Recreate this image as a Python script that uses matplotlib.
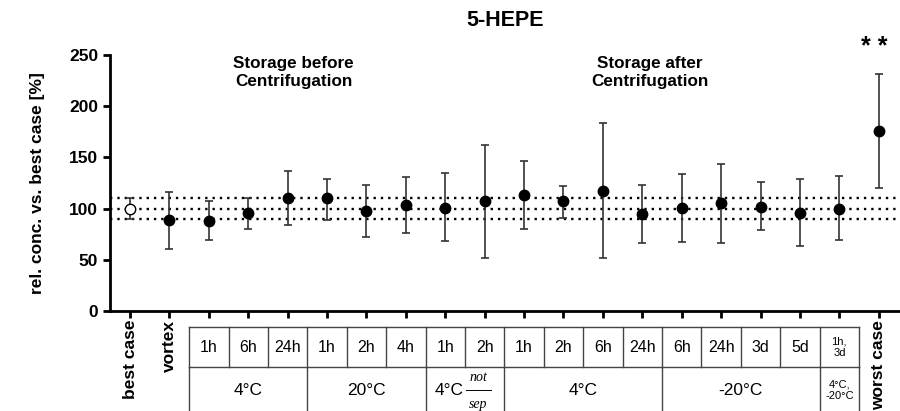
import numpy as np
import matplotlib.pyplot as plt
import matplotlib.transforms as mtransforms
from matplotlib.lines import Line2D

plt.rcParams['font.family'] = ['Liberation Sans', 'DejaVu Sans']

# data (mean, upper end, lower end of error bar)
conditions = ['best case', 'vortex',
              '1h', '6h', '24h', '1h', '2h', '4h', '1h', '2h',
              '1h', '2h', '6h', '24h', '6h', '24h', '3d', '5d', '1h,\n3d',
              'worst case']
means = [100, 89, 88, 95.5, 110, 110, 98, 104, 101, 107,
         113.5, 107, 117.5, 95, 100.5, 105, 102, 96, 100, 176]
upper = [110, 116.5, 107.5, 110, 137, 129, 123.5, 131, 135, 162.5,
         146, 122.5, 184, 123, 134, 144, 125.5, 128.5, 131.5, 231]
lower = [90, 60.5, 69, 80, 84, 89, 72, 76.5, 68, 52,
         80.5, 91, 52, 66, 67.5, 66, 79, 63, 69, 120.5]
groups = [('4°C', 2, 4), ('20°C', 5, 7), ('4°C', 8, 9), ('4°C', 10, 13),
          ('-20°C', 14, 17), ('4°C,\n-20°C', 18, 18)]
ref_lines = [90, 100, 110]

x = np.arange(len(means))
means = np.array(means)
yerr = np.vstack([means - np.array(lower), np.array(upper) - means])

fig = plt.figure(figsize=(9, 4.11), dpi=100)
ax = fig.add_axes([110/900, 1-311/411, 790/900, 256/411])

for r in ref_lines:
    ax.axhline(r, color='black', lw=1.7, ls=(0, (1, 2.1)), zorder=1)

ax.errorbar(x[1:], means[1:], yerr=yerr[:, 1:], fmt='o', color='black',
            ecolor='#333333', elinewidth=1.2, capsize=3, capthick=1.2,
            markersize=7.5, zorder=3)
ax.errorbar(x[:1], means[:1], yerr=yerr[:, :1], fmt='o', mfc='white',
            mec='black', color='black', ecolor='#333333', elinewidth=1.2,
            capsize=3, capthick=1.2, markersize=7.5, zorder=3)

ax.set_xlim(-0.508, 19.54)
ax.set_ylim(0, 250)
ax.set_yticks([0, 50, 100, 150, 200, 250])
ax.set_xticks(x)
ax.set_xticklabels([])
for s in ['top', 'right']:
    ax.spines[s].set_visible(False)
for s in ['left', 'bottom']:
    ax.spines[s].set_linewidth(2)
ax.tick_params(axis='both', direction='out', width=2, length=5)
for lab in ax.get_yticklabels():
    lab.set_fontweight('bold')
    lab.set_fontsize(12.5)
ax.set_ylabel('rel. conc. vs. best case [%]', fontsize=12.5, fontweight='bold',
              labelpad=17)

fig.text(505/900, 1-20/411, '5-HEPE', ha='center', va='center',
         fontsize=15.5, fontweight='bold')
ax.text(4.15, 233, 'Storage before\nCentrifugation', ha='center', va='center',
        fontsize=12.3, fontweight='bold', linespacing=1.25)
ax.text(13.2, 233, 'Storage after\nCentrifugation', ha='center', va='center',
        fontsize=12.3, fontweight='bold', linespacing=1.25)
ax.text(18.88, (311-47)/1.024, '* *', ha='center', va='center', fontsize=18,
        fontweight='bold', clip_on=False)

# table below the axis
tr = mtransforms.blended_transform_factory(ax.transData, ax.transAxes)
top, mid, bot = -0.0625, -0.219, -0.40
line_kw = dict(color='#444444', lw=1, transform=tr, clip_on=False)
left_edge, right_edge = 1.5, 18.5
for yy in (top, mid):
    ax.add_line(Line2D([left_edge, right_edge], [yy, yy], **line_kw))
for i in range(2, 20):
    xb = i - 0.5
    ax.add_line(Line2D([xb, xb], [top, mid], **line_kw))
for name, g0, g1 in groups:
    ax.add_line(Line2D([g0 - 0.5, g0 - 0.5], [mid, bot], **line_kw))
ax.add_line(Line2D([right_edge, right_edge], [mid, bot], **line_kw))

for i in range(2, 19):
    small = '\n' in conditions[i]
    ax.text(i, (top + mid) / 2, conditions[i], transform=tr, ha='center',
            va='center', fontsize=8 if small else 11.5, clip_on=False,
            linespacing=1.2)
for name, g0, g1 in groups:
    cx = (g0 + g1) / 2
    if g0 == 8:
        ax.text(8.1, (mid + bot) / 2, name, transform=tr, ha='center',
                va='center', fontsize=12.5, clip_on=False)
        ax.text(8.84, (mid + bot) / 2 + 0.05, 'not', transform=tr,
                ha='center', va='center', fontsize=10, family='Liberation Serif',
                style='italic', clip_on=False)
        ax.text(8.84, (mid + bot) / 2 - 0.055, 'sep', transform=tr,
                ha='center', va='center', fontsize=10, family='Liberation Serif',
                style='italic', clip_on=False)
        ax.add_line(Line2D([8.53, 9.15], [(mid + bot) / 2, (mid + bot) / 2],
                           color='black', lw=0.7, transform=tr, clip_on=False))
    elif '\n' in name:
        ax.text(cx, (mid + bot) / 2, name, transform=tr, ha='center',
                va='center', fontsize=8, clip_on=False, linespacing=1.2)
    else:
        ax.text(cx, (mid + bot) / 2, name, transform=tr, ha='center',
                va='center', fontsize=12.5, clip_on=False)

for i in (0, 1, 19):
    ax.text(i, -0.035, conditions[i], transform=tr, ha='center', va='top',
            rotation=90, fontsize=12.5, fontweight='bold', clip_on=False)

fig.savefig('out.png', dpi=100)
